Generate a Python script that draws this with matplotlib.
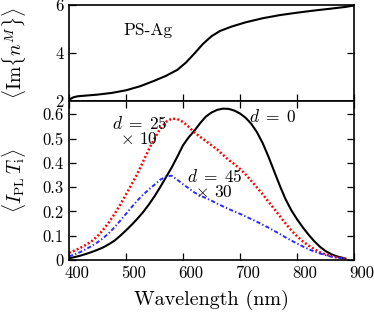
import matplotlib
matplotlib.use("Agg")
import matplotlib.pyplot as plt
import matplotlib.transforms as mtransforms

plt.rcParams['font.family'] = 'serif'
plt.rcParams['font.serif'] = ['cmr10', 'DejaVu Serif']
plt.rcParams['mathtext.fontset'] = 'cm'
plt.rcParams['axes.unicode_minus'] = False
plt.rcParams['lines.scale_dashes'] = False

# top panel: Im{n^M} of PS-Ag
wl_top = [400, 403, 408, 415, 430, 450, 475, 500, 525, 550, 570, 590, 605,
          620, 635, 650, 665, 685, 710, 740, 770, 800, 830, 860, 885, 900]
im_n = [2.0, 2.1, 2.16, 2.2, 2.23, 2.27, 2.34, 2.45, 2.62, 2.85, 3.05, 3.3,
        3.6, 3.98, 4.38, 4.7, 4.92, 5.1, 5.28, 5.45, 5.58, 5.68, 5.77, 5.85,
        5.92, 5.98]

# bottom panel: <I_PL T_i>
wl = [400, 410, 420, 430, 440, 450, 460, 470, 480, 490, 500, 510, 520, 530,
      540, 550, 560, 570, 580, 590, 600, 610, 620, 630, 640, 650, 660, 670,
      680, 690, 700, 710, 720, 730, 740, 750, 760, 770, 780, 790, 800, 810,
      820, 830, 840, 850, 860, 870, 880, 885]
d0 = [0.007, 0.012, 0.018, 0.025, 0.033, 0.042, 0.052, 0.065, 0.08, 0.1,
      0.122, 0.145, 0.17, 0.197, 0.228, 0.262, 0.3, 0.34, 0.38, 0.425,
      0.472, 0.505, 0.532, 0.563, 0.59, 0.607, 0.618, 0.623, 0.622, 0.615,
      0.603, 0.585, 0.56, 0.525, 0.48, 0.425, 0.365, 0.305, 0.25, 0.205,
      0.168, 0.135, 0.105, 0.078, 0.055, 0.037, 0.024, 0.015, 0.009, 0.006]
d25 = [0.03, 0.039, 0.05, 0.063, 0.078, 0.098, 0.125, 0.155, 0.19, 0.228,
       0.27, 0.312, 0.355, 0.405, 0.455, 0.5, 0.54, 0.568, 0.582, 0.58,
       0.568, 0.548, 0.525, 0.507, 0.49, 0.472, 0.455, 0.433, 0.412, 0.395,
       0.375, 0.352, 0.325, 0.298, 0.27, 0.24, 0.21, 0.18, 0.15, 0.122,
       0.098, 0.077, 0.06, 0.045, 0.032, 0.023, 0.016, 0.011, 0.007, 0.006]
d45 = [0.015, 0.023, 0.033, 0.045, 0.058, 0.073, 0.09, 0.111, 0.135, 0.162,
       0.19, 0.218, 0.245, 0.269, 0.29, 0.31, 0.33, 0.344, 0.347, 0.33,
       0.312, 0.295, 0.278, 0.265, 0.255, 0.244, 0.232, 0.221, 0.21, 0.2,
       0.19, 0.179, 0.168, 0.157, 0.145, 0.133, 0.12, 0.107, 0.093, 0.08,
       0.068, 0.056, 0.045, 0.035, 0.027, 0.02, 0.014, 0.01, 0.007, 0.005]

xticks = [400, 500, 600, 700, 800, 900]
yticks_bot = [0, 0.1, 0.2, 0.3, 0.4, 0.5, 0.6]
ytick_labels_bot = ['0', '0.1', '0.2', '0.3', '0.4', '0.5', '0.6']
yticks_top = [2, 4, 6]

fig = plt.figure(figsize=(3.74, 3.13), dpi=100)
ax_top = fig.add_axes([0.1845, 0.677, 0.762, 0.307])
ax = fig.add_axes([0.1845, 0.1693, 0.762, 0.5077])

for a in (ax_top, ax):
    for s in a.spines.values():
        s.set_linewidth(1.2)
    a.tick_params(direction='in', length=5, width=0.9, top=True, right=True,
                  labelsize=12, pad=4)
    a.set_xlim(400, 900)
    a.set_xticks(xticks)

# top panel
ax_top.plot(wl_top, im_n, color='black', lw=1.5)
ax_top.set_ylim(2, 6)
ax_top.set_yticks(yticks_top)
ax_top.set_yticklabels([str(v) for v in yticks_top])
ax_top.set_xticklabels([])
ax_top.tick_params(axis='x', top=False)
ax_top.set_ylabel(r'$\langle \mathrm{Im}\{n^M\}\rangle$', fontsize=14)
ax_top.yaxis.set_label_coords(-0.145, 0.5)
ax_top.text(495, 4.95, 'PS-Ag', fontsize=12.5, ha='left', va='center')

# bottom panel
ax.plot(wl, d0, color='black', lw=1.5)
ax.plot(wl, d25, color='#ff0000', lw=1.8, dashes=(1.4, 1.6))
ax.plot(wl, d45, color='#2a2aff', lw=1.4, dashes=(3.0, 1.6, 1.0, 1.6))
ax.set_ylim(0, 0.654)
ax.set_yticks(yticks_bot)
ax.set_yticklabels(ytick_labels_bot)
ax.set_xticklabels([str(v) for v in xticks])
offset = mtransforms.ScaledTranslation(5.5 / 72, 0, fig.dpi_scale_trans)
for lab in ax.get_xticklabels():
    lab.set_transform(lab.get_transform() + offset)
ax.set_xlabel('Wavelength (nm)', fontsize=14.5)
ax.xaxis.set_label_coords(0.5, -0.185)
ax.set_ylabel(r'$\langle I_{\mathrm{PL}}\, T_{\mathrm{i}}\rangle$', fontsize=14)
ax.yaxis.set_label_coords(-0.145, 0.5)

ax.text(475, 0.563, r'$d\;=\;25$', fontsize=12.5, ha='left', va='center')
ax.text(489, 0.497, r'$\times$ 10', fontsize=12.5, ha='left', va='center')
ax.text(716, 0.592, r'$d\;=\;0$', fontsize=12.5, ha='left', va='center')
ax.text(607, 0.345, r'$d\;=\;45$', fontsize=12.5, ha='left', va='center')
ax.text(621, 0.278, r'$\times$ 30', fontsize=12.5, ha='left', va='center')

fig.savefig('out.png', dpi=100)
